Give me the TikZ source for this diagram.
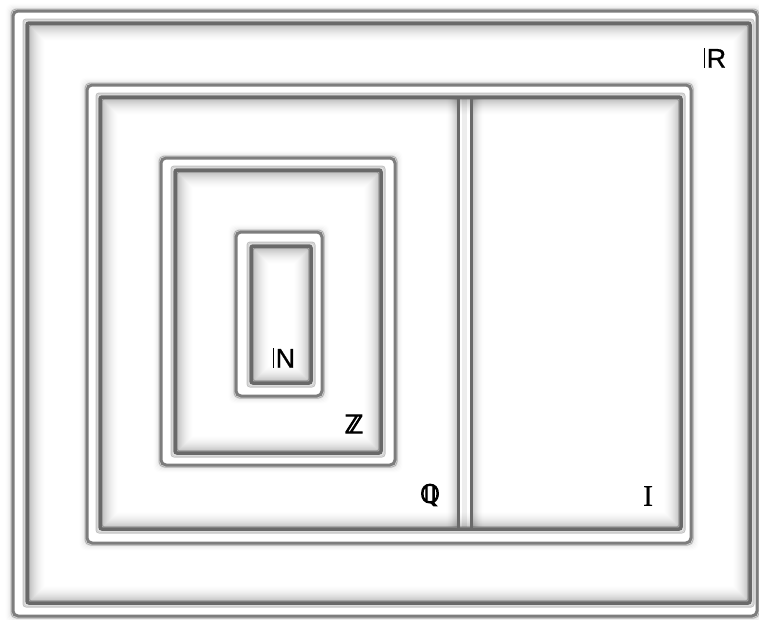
\documentclass[tikz,border=0pt]{standalone}
\usepackage{fontspec}
\newfontfamily\djsans[FakeBold=4]{DejaVu Sans}
\newfontfamily\arsans[FakeBold=0.8]{Liberation Sans}
\newfontfamily\tmsserif[FakeBold=0.5]{Liberation Serif}
\definecolor{lineouter}{RGB}{125,125,125}
\definecolor{lineinner}{RGB}{105,105,105}
\newcommand{\bbcomp}[1]{\rule{1.2pt}{0.716em}\kern1.6pt#1}
\tikzset{
  setlabel/.style={inner sep=0pt, font=\djsans\fontsize{25}{25}\selectfont, text=black},
  complabel/.style={inner sep=0pt, font=\arsans\fontsize{27}{27}\selectfont, text=black},
  serlabel/.style={inner sep=0pt, font=\tmsserif\fontsize{30}{30}\selectfont, text=black},
  outerline/.style={line width=3pt, draw=lineouter, rounded corners=5pt},
  innerline/.style={line width=3.5pt, draw=lineinner, rounded corners=2pt},
}
\newcommand{\dframe}[8]{%
  \foreach \k in {1,...,7}{%
    \pgfmathsetmacro\op{0.16*(1-\k/8)^1.5}%
    \draw[line width=1pt,black,opacity=\op,rounded corners=6pt] ({#1-\k},{#2-\k}) rectangle ({#3+\k},{#4+\k});}
  \foreach \k in {1,...,18}{%
    \pgfmathsetmacro\op{0.30*(1-\k/19)^1.8}%
    \draw[line width=1pt,black,opacity=\op] ({#5+\k},{#6+\k}) rectangle ({#7-\k},{#8-\k});}
  \foreach \k in {2,...,4}{%
    \pgfmathsetmacro\op{0.06*\k}%
    \draw[line width=1pt,black,opacity=\op,rounded corners=3pt] ({#5-\k},{#6-\k}) rectangle ({#7+\k},{#8+\k});}
  \draw[outerline] (#1,#2) rectangle (#3,#4);
  \draw[line width=1pt,lineouter,opacity=0.5,rounded corners=5pt] ({#1-2},{#2-2}) rectangle ({#3+2},{#4+2});
  \draw[innerline] (#5,#6) rectangle (#7,#8);
  \draw[line width=1pt,lineinner,opacity=0.5,rounded corners=2pt] ({#5+2.2},{#6+2.2}) rectangle ({#7-2.2},{#8-2.2});
}
\begin{document}
\begin{tikzpicture}[x=1pt,y=-1pt]
\useasboundingbox[fill=white] (0,0) rectangle (759,619);
% R frame
\dframe{13}{11}{757}{616}{27}{23}{750}{603}
% Q + I frame
\dframe{87}{85}{691}{543}{100}{97}{681}{529}
% divider shading
\foreach \k in {1,...,12}{%
  \pgfmathsetmacro\op{0.26*(1-\k/13)^1.8}%
  \draw[line width=1pt,black,opacity=\op] ({458-\k},99) -- ({458-\k},527);
  \draw[line width=1pt,black,opacity=\op] ({471+\k},99) -- ({471+\k},527);}
\draw[line width=5pt,black,opacity=0.07] (464.5,99) -- (464.5,527);
\draw[line width=3pt,lineinner] (458,97) -- (458,529);
\draw[line width=3pt,lineinner] (471,97) -- (471,529);
% Z frame
\dframe{161}{158}{395}{465}{175}{170}{381}{453}
% N frame
\dframe{236}{232}{322}{396}{251}{246}{311}{383}
% labels
\node[complabel] (R) at (715,58) {\bbcomp{R}};
\node[complabel] (N) at (284,358) {\bbcomp{N}};
\node[setlabel] (Z) at (354,424) {ℤ};
\node[setlabel] (Q) at (430,495) {ℚ};
\node[serlabel] (I) at (648,496) {I};
\end{tikzpicture}
\end{document}
